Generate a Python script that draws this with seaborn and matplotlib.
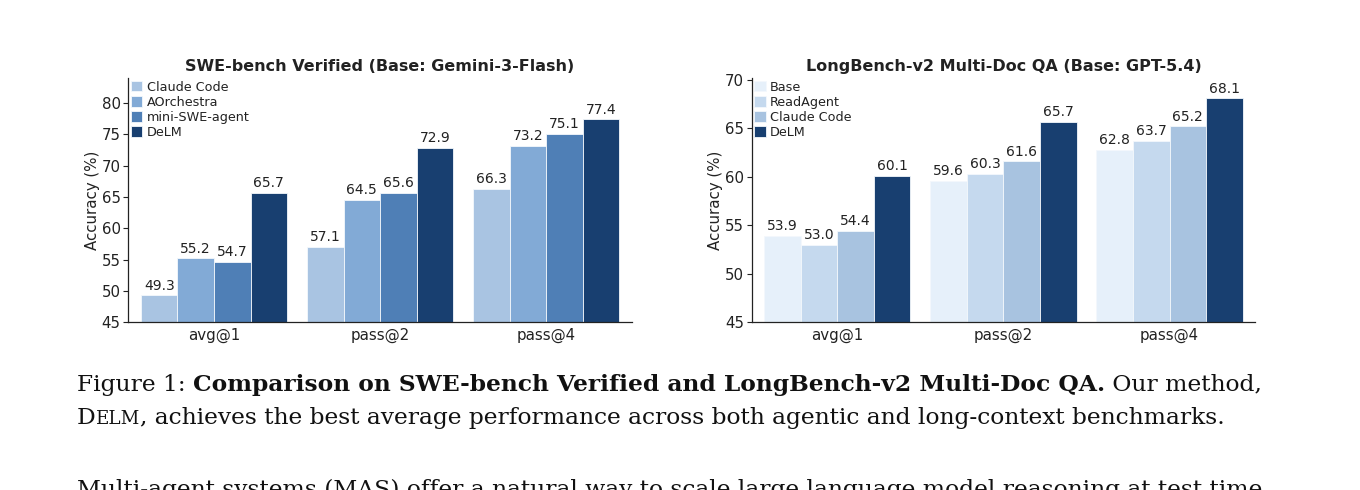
import matplotlib
matplotlib.use("Agg")
import matplotlib.pyplot as plt
import seaborn as sns
import pandas as pd

# ---------------- data ----------------
metrics = ["avg@1", "pass@2", "pass@4"]

swe_methods = ["Claude Code", "AOrchestra", "mini-SWE-agent", "DeLM"]
swe_claude = [49.3, 57.1, 66.3]
swe_aorch = [55.2, 64.5, 73.2]
swe_mini = [54.7, 65.6, 75.1]
swe_delm = [65.7, 72.9, 77.4]
swe_colors = ["#a9c4e2", "#82aad6", "#4f7fb6", "#183f70"]

lb_methods = ["Base", "ReadAgent", "Claude Code", "DeLM"]
lb_base = [53.9, 59.6, 62.8]
lb_read = [53.0, 60.3, 63.7]
lb_claude = [54.4, 61.6, 65.2]
lb_delm = [60.1, 65.7, 68.1]
lb_colors = ["#e6f0fa", "#c5d9ee", "#a8c3e0", "#183f70"]

swe_title = "SWE-bench Verified (Base: Gemini-3-Flash)"
lb_title = "LongBench-v2 Multi-Doc QA (Base: GPT-5.4)"

# ---------------- style ----------------
sns.set_theme(style="ticks")
plt.rcParams["font.family"] = ["DejaVu Sans"]
TXT = "#222222"

W, H = 1360, 490
fig = plt.figure(figsize=(W / 100, H / 100), dpi=100)


def long_df(methods, series):
    rows = []
    for m, vals in zip(methods, series):
        for met, v in zip(metrics, vals):
            rows.append({"metric": met, "method": m, "value": v})
    return pd.DataFrame(rows)


def panel(rect, methods, series, colors, title, ylim, yticks):
    ax = fig.add_axes(rect)
    df = long_df(methods, series)
    sns.barplot(data=df, x="metric", y="value", hue="method", order=metrics,
                hue_order=methods, palette=dict(zip(methods, colors)),
                saturation=1, width=0.88, gap=0, edgecolor="#f4f8fc",
                linewidth=0.6, errorbar=None, ax=ax)
    for cont in ax.containers:
        ax.bar_label(cont, fmt="%.1f", padding=2, fontsize=10, color=TXT)
    ax.set_xlim(-0.516, 2.516)
    ax.set_ylim(*ylim)
    ax.set_yticks(yticks)
    ax.set_xlabel("")
    ax.set_ylabel("Accuracy (%)", fontsize=10.8, color=TXT, labelpad=1.5)
    ax.set_title(title, fontsize=11.5, fontweight="bold", color=TXT, pad=5)
    ax.tick_params(axis="x", length=0, labelsize=10.8, colors=TXT, pad=4)
    ax.tick_params(axis="y", length=3.5, width=0.8, labelsize=10.8, colors=TXT, pad=2)
    sns.despine(ax=ax)
    for s in ("left", "bottom"):
        ax.spines[s].set_color("#222222")
        ax.spines[s].set_linewidth(0.9)
    if ax.get_legend() is not None:
        ax.get_legend().remove()
    leg = ax.legend([c.patches[0] for c in ax.containers], methods,
                    loc="upper left", bbox_to_anchor=(0.0, 1.0), frameon=False,
                    fontsize=9.2, handlelength=0.9, handleheight=0.9,
                    labelspacing=0.17, handletextpad=0.35, borderaxespad=0.05,
                    borderpad=0.15)
    for t in leg.get_texts():
        t.set_color(TXT)
    return ax


ax_bottom = (H - 322.3) / H
ax_height = (322.3 - 78) / H
ax_w = 503.5 / W
panel([128.3 / W, ax_bottom, ax_w, ax_height], swe_methods,
      [swe_claude, swe_aorch, swe_mini, swe_delm], swe_colors, swe_title,
      (45, 84.0), [45, 50, 55, 60, 65, 70, 75, 80])
panel([751.7 / W, ax_bottom, ax_w, ax_height], lb_methods,
      [lb_base, lb_read, lb_claude, lb_delm], lb_colors, lb_title,
      (45, 70.2), [45, 50, 55, 60, 65, 70])

# ---------------- caption & body text ----------------
renderer = fig.canvas.get_renderer()
SERIF = ["DejaVu Serif"]


def draw_runs(x_px, y_px, runs, size):
    x = x_px
    made = []
    for text, weight, scale in runs:
        t = fig.text(x / W, (H - y_px) / H, text, fontsize=size * scale,
                     fontweight=weight, family=SERIF, color="#111111",
                     va="baseline", ha="left")
        bb = t.get_window_extent(renderer=renderer)
        x += bb.width
        made.append(t)
    return x, made


line1 = [("Figure 1: ", "normal", 1.0),
         ("Comparison on SWE-bench Verified and LongBench-v2 Multi-Doc QA.", "bold", 1.0),
         (" Our method,", "normal", 1.0)]
line2 = [("D", "normal", 1.0), ("ELM", "normal", 0.78),
         (", achieves the best average performance across both agentic and long-context benchmarks.", "normal", 1.0)]
line3 = [("Multi-agent systems (MAS) offer a natural way to scale large language model reasoning at test time.",
          "normal", 1.0)]

# fit caption line 1 to the reference width
x_end, tmp = draw_runs(77, 390.5, line1, 18.0)
for t in tmp:
    t.remove()
cap_size = 18.0 * (1267 - 77) / (x_end - 77)

draw_runs(77, 390.5, line1, cap_size)
draw_runs(77, 423.5, line2, cap_size)
draw_runs(77, 495.5, line3, cap_size)

fig.savefig("out.png", dpi=100)
